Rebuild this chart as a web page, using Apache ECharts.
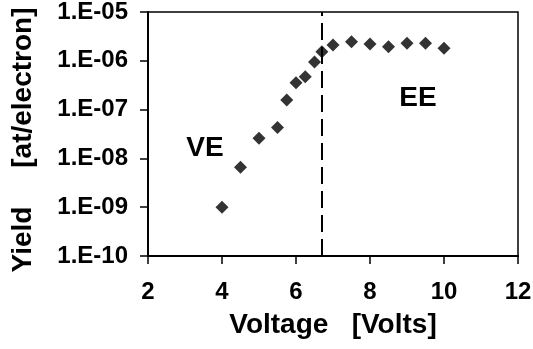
<!DOCTYPE html>
<html>
<head>
<meta charset="utf-8">
<script src="https://cdn.jsdelivr.net/npm/echarts@6/dist/echarts.min.js"></script>
<style>html,body{margin:0;padding:0;background:#fff}#c{width:533px;height:349px}</style>
</head>
<body>
<div id="c"></div>
<script>
var voltage = [4, 4.5, 5, 5.5, 5.75, 6, 6.25, 6.5, 6.7, 7, 7.5, 8, 8.5, 9, 9.5, 10];
var yieldVals = [1.0e-9, 6.6e-9, 2.6e-8, 4.3e-8, 1.57e-7, 3.56e-7, 4.7e-7, 9.4e-7, 1.54e-6, 2.1e-6, 2.47e-6, 2.21e-6, 1.95e-6, 2.28e-6, 2.28e-6, 1.80e-6];
var yTickLabels = ['1.E-10', '1.E-09', '1.E-08', '1.E-07', '1.E-06', '1.E-05'];
var xTickLabels = ['2', '4', '6', '8', '10', '12'];
var thresholdVoltage = 6.7;
var regionLabels = ['VE', 'EE'];
var xTitle = 'Voltage   [Volts]';
var yTitle = 'Yield     [at/electron]';

var FONT = '"Liberation Sans", Arial, sans-serif';
var chart = echarts.init(document.getElementById('c'), null, {renderer: 'canvas'});
var pts = voltage.map(function (v, i) { return [v, yieldVals[i]]; });

chart.setOption({
  animation: false,
  backgroundColor: '#fff',
  grid: {left: 148, right: 15, top: 12, bottom: 93, containLabel: false, outerBoundsMode: 'none',
         show: true, borderColor: '#000', borderWidth: 1.5},
  xAxis: {
    type: 'value', min: 2, max: 12, interval: 2,
    name: xTitle, nameLocation: 'middle', nameGap: 55,
    nameTextStyle: {fontFamily: FONT, fontWeight: 'bold', fontSize: 28, color: '#000'},
    axisLine: {show: true, lineStyle: {color: '#000', width: 2}},
    axisTick: {show: true, length: 8, inside: false, lineStyle: {color: '#000', width: 1.5}},
    axisLabel: {margin: 24, fontFamily: FONT, fontWeight: 'bold', fontSize: 24, color: '#000',
      formatter: function (v) { return xTickLabels[Math.round((v - 2) / 2)]; }},
    splitLine: {show: false}
  },
  yAxis: {
    type: 'log', logBase: 10, min: 1e-10, max: 1e-5,
    axisLine: {show: true, lineStyle: {color: '#000', width: 2}},
    axisTick: {show: true, length: 8, inside: false, lineStyle: {color: '#000', width: 1.5}},
    axisLabel: {margin: 20, fontFamily: FONT, fontWeight: 'bold', fontSize: 24, color: '#000',
      formatter: function (v) { return yTickLabels[Math.round(Math.log10(v)) + 10]; }},
    splitLine: {show: false},
    minorTick: {show: false}
  },
  series: [{
    type: 'scatter',
    data: pts,
    symbol: 'diamond',
    symbolSize: 13,
    itemStyle: {color: '#000'},
    markLine: {
      silent: true, symbol: 'none', label: {show: false},
      lineStyle: {color: '#000', width: 2, type: [17, 7]},
      data: [{xAxis: thresholdVoltage}]
    }
  }],
  graphic: [
    {type: 'text', x: 205, y: 148, style: {text: regionLabels[0], font: 'bold 28px ' + FONT, fill: '#000', align: 'center', verticalAlign: 'middle'}},
    {type: 'text', x: 418, y: 98, style: {text: regionLabels[1], font: 'bold 28px ' + FONT, fill: '#000', align: 'center', verticalAlign: 'middle'}},
    {type: 'text', x: 23, y: 140, rotation: Math.PI / 2, style: {text: yTitle, font: 'bold 28px ' + FONT, fill: '#000', align: 'center', verticalAlign: 'middle'}}
  ]
});
</script>
</body>
</html>
